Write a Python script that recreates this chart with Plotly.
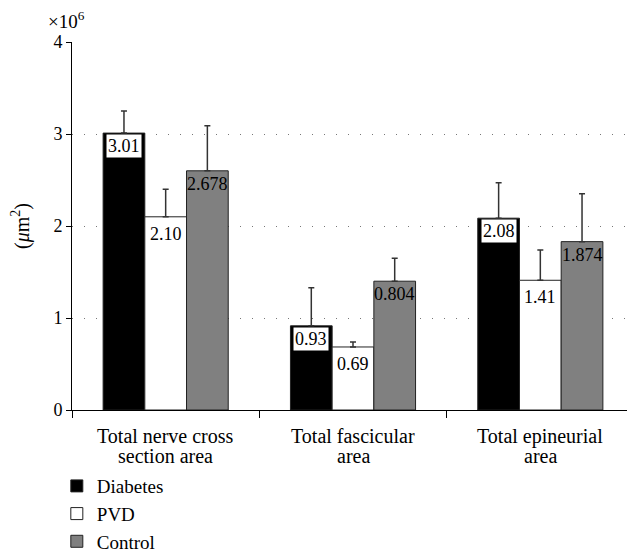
import plotly.graph_objects as go

category_line1 = ["Total nerve cross", "Total fascicular", "Total epineurial"]
category_line2 = ["section area", "area", "area"]
series_names = ["Diabetes", "PVD", "Control"]
diabetes = [3.01, 0.915, 2.085]
pvd = [2.10, 0.685, 1.41]
control = [2.60, 1.40, 1.83]
diabetes_err_top = [3.25, 1.33, 2.47]
pvd_err_top = [2.40, 0.74, 1.74]
control_err_top = [3.09, 1.65, 2.35]
diabetes_labels = ["3.01", "0.93", "2.08"]
pvd_labels = ["2.10", "0.69", "1.41"]
control_labels = ["2.678", "0.804", "1.874"]
y_ticks = [0, 1, 2, 3, 4]

FONT = "Liberation Serif, Times New Roman, serif"
values = [diabetes, pvd, control]
tops = [diabetes_err_top, pvd_err_top, control_err_top]
labels = [diabetes_labels, pvd_labels, control_labels]
fills = ["#000000", "#ffffff", "#808080"]
width = 0.2226
offsets = [-1.5 * width, -0.5 * width, 0.5 * width]

fig = go.Figure()
xs = list(range(len(category_line1)))
for k, name in enumerate(series_names):
    fig.add_trace(go.Bar(
        x=xs, y=values[k], name=name,
        width=width, offset=offsets[k],
        marker=dict(color=fills[k], line=dict(color="#222222", width=1)),
        error_y=dict(type="data", symmetric=False,
                     array=[t - v for t, v in zip(tops[k], values[k])],
                     arrayminus=[0] * len(xs),
                     color="#333333", thickness=1.5, width=3),
    ))

annotations = []
for k in range(3):
    for i in xs:
        annotations.append(dict(
            x=i + offsets[k] + width / 2, y=values[k][i], xref="x", yref="y",
            text=labels[k][i], showarrow=False, yanchor="top",
            yshift=-1 if k != 1 else -5,
            font=dict(family=FONT, size=18, color="#000000"),
            bgcolor="#ffffff" if k == 0 else None,
            borderpad=1,
        ))
for i in xs:
    annotations.append(dict(x=i, y=0, xref="x", yref="paper", yanchor="top",
                            yshift=-13, text=category_line1[i], showarrow=False,
                            font=dict(family=FONT, size=20, color="#000000")))
    annotations.append(dict(x=i, y=0, xref="x", yref="paper", yanchor="top",
                            yshift=-33, text=category_line2[i], showarrow=False,
                            font=dict(family=FONT, size=20, color="#000000")))
annotations.append(dict(x=0, y=1, xref="paper", yref="paper", xshift=-26, yshift=8,
                        text="×10<sup>6</sup>", showarrow=False, xanchor="left", yanchor="bottom",
                        font=dict(family=FONT, size=19, color="#000000")))

fig.update_layout(
    width=627, height=546,
    margin=dict(l=64, r=1, t=34, b=144, autoexpand=False),
    plot_bgcolor="white", paper_bgcolor="white",
    font=dict(family=FONT, size=18, color="#000000"),
    barmode="overlay",
    showlegend=True,
    legend=dict(x=-0.027, y=-0.155, xanchor="left", yanchor="top",
                orientation="v", traceorder="normal",
                font=dict(family=FONT, size=19, color="#000000"),
                bgcolor="rgba(0,0,0,0)"),
    annotations=annotations,
    xaxis=dict(
        range=[-0.5, 2.5], tickmode="array", tickvals=xs, showticklabels=False,
        showline=True, linecolor="#000000", linewidth=1,
        ticks="", showgrid=False, zeroline=False,
        minor=dict(tickvals=[-0.5, 0.5, 1.5, 2.5], ticks="outside", ticklen=7,
                   tickcolor="#000000", showgrid=False),
    ),
    yaxis=dict(
        range=[0, 4], tickvals=y_ticks, ticks="outside", ticklen=5, tickcolor="#000000",
        showline=True, linecolor="#000000", linewidth=1,
        showgrid=True, gridcolor="#777777", griddash="1px,11px", gridwidth=1,
        zeroline=False,
        tickfont=dict(family=FONT, size=18, color="#000000"),
        title=dict(text="(<i>μ</i>m<sup>2</sup>)", standoff=18,
                   font=dict(family=FONT, size=20, color="#000000")),
    ),
)
fig.write_html("out.html")
